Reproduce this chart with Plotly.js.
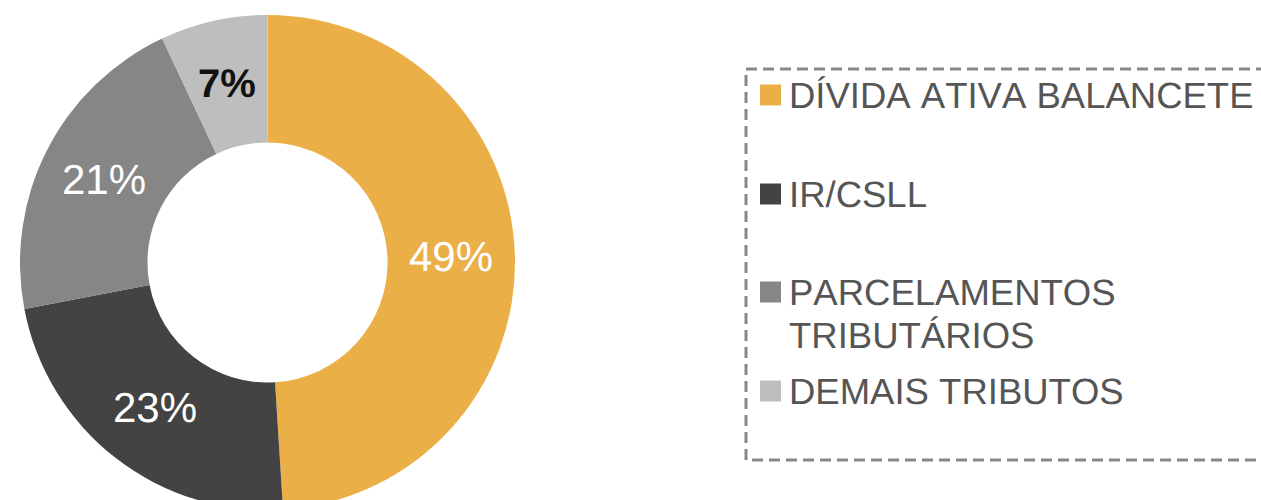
<!DOCTYPE html>
<html>
<head>
<meta charset="utf-8">
<script src="https://cdn.plot.ly/plotly-3.0.1.min.js"></script>
<style>
html,body{margin:0;padding:0;background:#fff;overflow:hidden;}
#chart{width:1261px;height:510px;}
#chart text{font-kerning:none;text-rendering:geometricPrecision;}
</style>
</head>
<body>
<div id="chart"></div>
<script>
const labels = ["DÍVIDA ATIVA BALANCETE", "IR/CSLL", "PARCELAMENTOS TRIBUTÁRIOS", "DEMAIS TRIBUTOS"];
const values = [49, 23, 21, 7];
const colors = ["#EAB047", "#434343", "#868686", "#BEBEBE"];
const labelColors = ["#FFFFFF", "#FFFFFF", "#FFFFFF", "#111111"];

const W = 1261, H = 510;
const px = x => x / W;
const py = y => 1 - y / H;

// pie geometry (pixels)
const CX = 267.5, CY = 262.5, R = 247.5, HOLE = 0.485;

function wrapLines(s) {
  if (s.length <= 22) return [s];
  const i = s.lastIndexOf(" ");
  return [s.slice(0, i), s.slice(i + 1)];
}

const trace = {
  type: "pie",
  labels: labels,
  values: values,
  sort: false,
  direction: "clockwise",
  rotation: 0,
  hole: HOLE,
  marker: {colors: colors, line: {width: 0}},
  textinfo: "none",
  domain: {x: [px(CX - R), px(CX + R)], y: [0, py(CY - R)]},
  showlegend: false,
  hoverinfo: "label+percent"
};

const annotations = [];

// percentage labels placed at the middle of each ring segment
const total = values.reduce((a, b) => a + b, 0);
let cum = 0;
const rMid = R * (1 + HOLE) / 2;
values.forEach((v, i) => {
  const mid = (cum + v / 2) / total * 2 * Math.PI;
  cum += v;
  const x = CX + rMid * Math.sin(mid);
  const y = CY - rMid * Math.cos(mid);
  const pct = Math.round(v / total * 100) + "%";
  annotations.push({
    xref: "paper", yref: "paper", x: px(x), y: py(y),
    xanchor: "center", yanchor: "middle", showarrow: false,
    text: i === 3 ? "<b>" + pct + "</b>" : pct,
    font: {family: "Liberation Sans, Arial, sans-serif", size: i === 3 ? 40 : 42, color: labelColors[i]}
  });
});

// legend (dashed box, colour squares, labels)
const itemY = [95, 194, 292, 391];
const shapes = [{
  type: "rect", xref: "paper", yref: "paper",
  x0: px(746), x1: px(1290), y0: py(69), y1: py(460),
  line: {color: "#888888", width: 3, dash: "11px,6px"},
  fillcolor: "rgba(0,0,0,0)"
}];
labels.forEach((l, i) => {
  const yc = itemY[i];
  shapes.push({
    type: "rect", xref: "paper", yref: "paper",
    x0: px(760), x1: px(781), y0: py(yc - 10.5), y1: py(yc + 10.5),
    fillcolor: colors[i], line: {width: 0}
  });
  wrapLines(l).forEach((line, k) => {
    annotations.push({
      xref: "paper", yref: "paper",
      x: px(787), y: py(yc + k * 43),
      xanchor: "left", yanchor: "middle",
      text: line, showarrow: false, align: "left",
      font: {family: "Liberation Sans, Arial, sans-serif", size: 36.5, color: "#555555"}
    });
  });
});

const layout = {
  width: W, height: H,
  margin: {l: 0, r: 0, t: 0, b: 0},
  paper_bgcolor: "#FFFFFF",
  plot_bgcolor: "#FFFFFF",
  showlegend: false,
  shapes: shapes,
  annotations: annotations
};

Plotly.newPlot("chart", [trace], layout, {staticPlot: true, displayModeBar: false});
</script>
</body>
</html>
